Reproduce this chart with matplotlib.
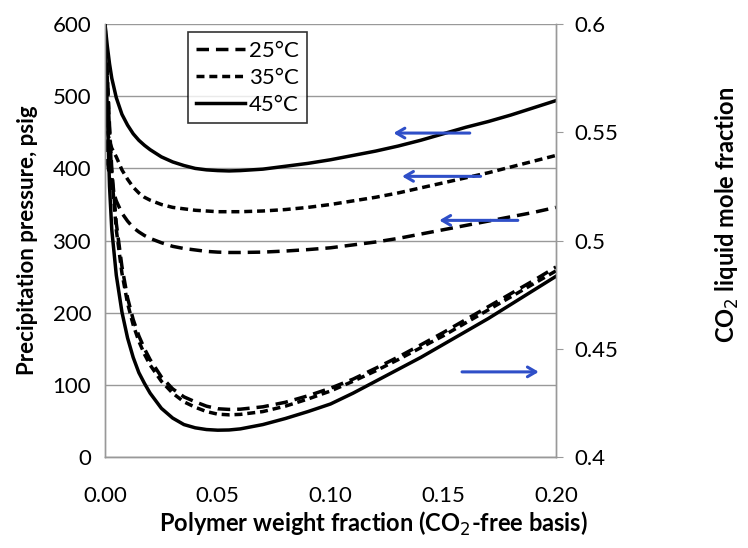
import matplotlib
matplotlib.use("Agg")
import matplotlib.pyplot as plt

plt.rcParams['font.family'] = ['Lato', 'DejaVu Sans']

# polymer weight fraction (CO2-free basis)
w = [0, 0.001, 0.002, 0.003, 0.005, 0.0075, 0.01, 0.0125, 0.015, 0.0175,
     0.02, 0.025, 0.03, 0.035, 0.04, 0.045, 0.05, 0.055, 0.06, 0.07,
     0.08, 0.09, 0.10, 0.11, 0.12, 0.13, 0.14, 0.15, 0.16, 0.17,
     0.18, 0.19, 0.20]

# precipitation pressure, psig
p25 = [440, 410, 390, 375, 355, 338, 327, 318, 312, 307,
       303, 297, 292, 289, 287, 285, 284, 283.5, 283.5, 284,
       285.5, 287.5, 290, 294, 298, 303, 309, 315, 321, 327,
       333, 339, 346]
p35 = [470, 452, 438, 428, 416, 398, 385, 374, 366, 360,
       356, 350, 346, 344, 342, 341, 340, 340, 340, 341,
       343, 346, 350, 355, 360, 366, 373, 380, 387, 394,
       402, 410, 418]
p45 = [600, 570, 545, 525, 498, 475, 460, 448, 439, 432,
       426, 416, 409, 404, 400, 398, 397, 396.5, 397, 399,
       403, 407, 412, 418, 424, 431, 439, 448, 457, 465,
       474, 484, 494]

# CO2 liquid mole fraction
x25 = [0.600, 0.578, 0.553, 0.533, 0.508, 0.488, 0.4735, 0.4635, 0.456, 0.450,
       0.445, 0.437, 0.4315, 0.4278, 0.4255, 0.4235, 0.4223, 0.422, 0.4221, 0.4232,
       0.4253, 0.4283, 0.4318, 0.436, 0.441, 0.4462, 0.4518, 0.4575, 0.4635, 0.4695,
       0.4755, 0.4815, 0.4878]
x35 = [0.600, 0.575, 0.550, 0.530, 0.505, 0.485, 0.471, 0.461, 0.4535, 0.4475,
       0.4425, 0.435, 0.4295, 0.4255, 0.423, 0.421, 0.4198, 0.4195, 0.4197, 0.421,
       0.4235, 0.4268, 0.4305, 0.435, 0.4398, 0.445, 0.4505, 0.456, 0.462, 0.468,
       0.474, 0.480, 0.486]
x45 = [0.600, 0.560, 0.525, 0.505, 0.484, 0.467, 0.455, 0.446, 0.439, 0.434,
       0.4295, 0.4225, 0.418, 0.415, 0.4135, 0.4127, 0.4124, 0.4125, 0.413, 0.415,
       0.4178, 0.421, 0.4245, 0.4295, 0.435, 0.4405, 0.446, 0.452, 0.458, 0.464,
       0.4705, 0.477, 0.4835]

labels = ['25°C', '35°C', '45°C']

fig = plt.figure(figsize=(7.48, 5.48), dpi=100)
ax = fig.add_axes([0.1404, 0.166, 0.6029, 0.790])
ax2 = ax.twinx()

grey = '#999999'
long_dash = (0, (3.6, 2.0))
short_dash = (0, (2.3, 1.4))
lw = 2.5

l25, = ax.plot(w, p25, color='black', lw=lw, ls=long_dash, label=labels[0])
l35, = ax.plot(w, p35, color='black', lw=lw, ls=short_dash, label=labels[1])
l45, = ax.plot(w, p45, color='black', lw=lw, ls='-', label=labels[2])

ax2.plot(w, x25, color='black', lw=lw, ls=long_dash)
ax2.plot(w, x35, color='black', lw=lw, ls=short_dash)
ax2.plot(w, x45, color='black', lw=lw, ls='-')

ax.set_xlim(0, 0.2)
ax.set_ylim(0, 600)
ax2.set_ylim(0.4, 0.6)
ax.set_xticks([0, 0.05, 0.10, 0.15, 0.20])
ax.set_xticklabels(['0.00', '0.05', '0.10', '0.15', '0.20'])
ax.set_yticks(range(0, 601, 100))
ax2.set_yticks([0.4, 0.45, 0.5, 0.55, 0.6])
ax2.set_yticklabels(['0.4', '0.45', '0.5', '0.55', '0.6'])

ax.yaxis.grid(True, color=grey, lw=1)
ax.set_axisbelow(True)

for a in (ax, ax2):
    a.spines['top'].set_visible(False)
    for s in ('left', 'right', 'bottom'):
        a.spines[s].set_color(grey)
        a.spines[s].set_linewidth(1)

ax.tick_params(axis='x', length=0, pad=21, labelsize=16)
ax.tick_params(axis='y', length=0, pad=10, labelsize=16)
ax2.tick_params(axis='y', length=5, color=grey, pad=8, labelsize=16)

ax.set_xlabel('Polymer weight fraction (CO$_2$-free basis)',
              fontsize=17, fontweight='bold')
ax.xaxis.set_label_coords(0.596, -0.122)
ax.set_ylabel('Precipitation pressure, psig', fontsize=16, fontweight='bold')
ax.yaxis.set_label_coords(-0.173, 0.5)
ax2.set_ylabel('CO$_2$ liquid mole fraction', fontsize=17, fontweight='bold')
ax2.yaxis.set_label_coords(1.379, 0.56)
ax2.yaxis.label.set_va('center')
ax.yaxis.label.set_va('center')

leg = ax.legend(handles=[l25, l35, l45], loc='upper left',
                bbox_to_anchor=(0.184, 0.9815), borderaxespad=0,
                fontsize=16, frameon=True, fancybox=False, edgecolor='black',
                handlelength=2.2, handletextpad=0.15, borderpad=0.38,
                labelspacing=0.32)
leg.get_frame().set_linewidth(1.2)

# blue arrows pointing to the axis each group belongs to
blue = '#2f4fc8'
arrows = [((0.163, 449), (0.1267, 449)),
          ((0.1678, 389), (0.1305, 389)),
          ((0.1843, 328), (0.147, 328)),
          ((0.1571, 118), (0.1936, 118))]
for tail, head in arrows:
    ax.annotate('', xy=head, xytext=tail,
                arrowprops=dict(arrowstyle='->,head_length=0.6,head_width=0.35',
                                color=blue, lw=2.2))

fig.savefig('out.png', dpi=100)
